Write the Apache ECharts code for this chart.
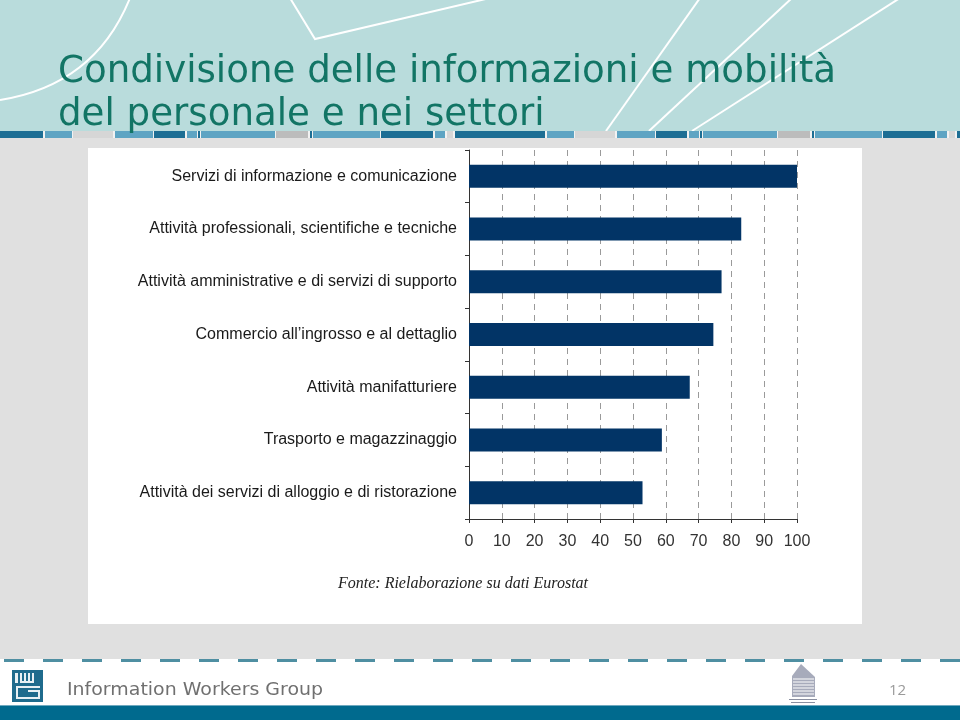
<!DOCTYPE html>
<html><head><meta charset="utf-8">
<script src="https://cdn.jsdelivr.net/npm/echarts@6/dist/echarts.min.js"></script>
<style>html,body{margin:0;padding:0;background:#fff}#c{width:960px;height:720px}</style>
</head><body><div id="c"></div>
<script>
// ---- data ----
const categories = [
  'Servizi di informazione e comunicazione',
  'Attività professionali, scientifiche e tecniche',
  'Attività amministrative e di servizi di supporto',
  'Commercio all\u2019ingrosso e al dettaglio',
  'Attività manifatturiere',
  'Trasporto e magazzinaggio',
  'Attività dei servizi di alloggio e di ristorazione'
];
const values = [100, 83, 77, 74.5, 67.3, 58.8, 52.9];
const xMin = 0, xMax = 100, xStep = 10;
const titleLines = ['Condivisione delle informazioni e mobilità', 'del personale e nei settori'];
const sourceText = 'Fonte: Rielaborazione su dati Eurostat';
const footerText = 'Information Workers Group';
const pageNumber = '12';

// ---- helpers ----
const mctx = document.createElement('canvas').getContext('2d');
function textW(t, font){ mctx.font = font; return mctx.measureText(t).width; }

const titleFont = '37px "DejaVu Sans"';
const titleScale = 778 / textW(titleLines[0], titleFont);
const footFont = '17px "DejaVu Sans"';
const footScale = 256 / textW(footerText, footFont);

const g = [];
// top teal region
g.push({type:'rect', z:-20, shape:{x:0,y:0,width:960,height:131}, style:{fill:'#b9dcdc'}});
// white decorative lines
const wl = {stroke:'#ffffff', lineWidth:2, fill:null};
g.push({type:'bezierCurve', z:-19, shape:{x1:0,y1:100,x2:130,y2:-2,cpx1:95,cpy1:85}, style:wl});
g.push({type:'polyline', z:-19, shape:{points:[[290,-2],[315,39],[490,-2]]}, style:wl});
g.push({type:'line', z:-19, shape:{x1:700,y1:-2,x2:606,y2:131}, style:wl});
g.push({type:'line', z:-19, shape:{x1:792,y1:-2,x2:649,y2:131}, style:wl});
g.push({type:'line', z:-19, shape:{x1:900,y1:-2,x2:692,y2:131}, style:wl});
// gray content background
g.push({type:'rect', z:-20, shape:{x:0,y:131,width:960,height:528}, style:{fill:'#e0e0e0'}});
// stripe band
g.push({type:'rect', z:-19, shape:{x:0,y:131,width:960,height:7}, style:{fill:'#f2f2f2'}});
const D='#1d6e94', M='#5ea4c3', L='#d6d6d6', G='#bcbcbc';
const stripe = [[0,90,D],[92,119,M],[120,160,L],[162,200,M],[201,232,D],[234,244,M],[245,247,D],[248,322,M],[323,355,G],[357,359,D],[360,427,M],[428,480,D],[482,492,M],[494,500,L]];
for (let p=-47; p<960; p+=502) {
  stripe.forEach(s => g.push({type:'rect', z:-18, shape:{x:p+s[0], y:131, width:s[1]-s[0], height:7}, style:{fill:s[2]}}));
}
// chart panel
g.push({type:'rect', z:-17, shape:{x:88,y:148,width:774,height:476}, style:{fill:'#ffffff'}});
// footer
g.push({type:'rect', z:-20, shape:{x:0,y:659,width:960,height:61}, style:{fill:'#ffffff'}});
for (let x=4; x<960; x+=39) {
  g.push({type:'rect', z:-18, shape:{x:x,y:659,width:20,height:3}, style:{fill:'#4f8fa2'}});
}
g.push({type:'rect', z:-18, shape:{x:0,y:705,width:960,height:15}, style:{fill:'#006a8e'}});
g.push({type:'rect', z:-17, shape:{x:0,y:705,width:960,height:1}, style:{fill:'#6fa9bf'}});
// IWG logo
g.push({type:'rect', z:-16, shape:{x:12,y:670,width:31,height:32}, style:{fill:'#1f6b8d'}});
const wr = [[15,673,3,10],[20,673,2,10],[24,673,2,10],[28,673,2,10],[32,673,2,10],[20,681,14,2],
            [16,686,24,2],[16,686,2,13],[16,697,24,2],[38,690,2,9],[28,690,12,2]];
wr.forEach(r => g.push({type:'rect', z:-15, shape:{x:r[0],y:r[1],width:r[2],height:r[3]}, style:{fill:'#e8f0f4'}}));
// building logo
g.push({type:'polygon', z:-16, shape:{points:[[792,676],[801,664],[815,677],[815,697],[792,697]]}, style:{fill:'#a7abbb'}});
for (let y=679; y<697; y+=3) {
  g.push({type:'line', z:-15, shape:{x1:793,y1:y,x2:814,y2:y}, style:{stroke:'#ffffff', lineWidth:1}});
}
g.push({type:'rect', z:-16, shape:{x:789,y:699,width:28,height:1}, style:{fill:'#8a8fa0'}});
g.push({type:'rect', z:-16, shape:{x:791,y:702,width:24,height:1}, style:{fill:'#8a8fa0'}});
// texts (y = top of text box)
g.push({type:'text', z:5, x:58, y:54, scaleX:titleScale, style:{text:titleLines[0], font:titleFont, fill:'#127565', x:0, y:0}});
g.push({type:'text', z:5, x:58, y:97, scaleX:titleScale, style:{text:titleLines[1], font:titleFont, fill:'#127565', x:0, y:0}});
g.push({type:'text', z:5, x:338, y:576, style:{text:sourceText, font:'italic 16px "Liberation Serif"', fill:'#222222', x:0, y:0}});
g.push({type:'text', z:5, x:67, y:682, scaleX:footScale, style:{text:footerText, font:footFont, fill:'#707070', x:0, y:0}});
g.push({type:'text', z:5, x:889, y:683, style:{text:pageNumber, font:'15px "Open Sans"', fill:'#9a9a9a', x:0, y:0}});

const chart = echarts.init(document.getElementById('c'), null, {renderer:'canvas'});
chart.setOption({
  animation:false,
  graphic: g,
  grid:{left:469, right:163, top:150, bottom:201, containLabel:false},
  xAxis:{
    type:'value', min:xMin, max:xMax, interval:xStep,
    axisLine:{show:true, lineStyle:{color:'#333333', width:1}},
    axisTick:{show:true, length:4, lineStyle:{color:'#333333'}},
    axisLabel:{color:'#333333', fontSize:16, fontFamily:'Liberation Sans', margin:15},
    splitLine:{show:true, lineStyle:{type:[6,5], color:'#9a9a9a', width:1}}
  },
  yAxis:{
    type:'category', data:categories, inverse:true,
    axisLine:{show:true, lineStyle:{color:'#333333', width:1}},
    axisTick:{show:true, length:4, lineStyle:{color:'#333333'}},
    axisLabel:{color:'#1a1a1a', fontSize:16, fontFamily:'Liberation Sans', margin:12},
    splitLine:{show:false}
  },
  series:[{type:'bar', data:values, barWidth:23, itemStyle:{color:'#023466'}, silent:true}]
});
</script>
</body></html>
